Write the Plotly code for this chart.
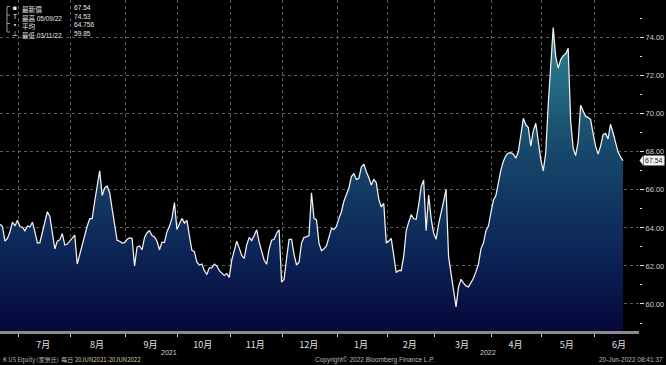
import pandas as pd
import plotly.graph_objects as go

# ---------------- data ----------------
holidays = ['2021-07-05', '2021-09-06', '2021-11-25', '2021-12-24', '2022-01-17',
            '2022-02-21', '2022-04-15', '2022-05-30', '2022-06-20']

prices = [
    64.2, 64.07, 63.3, 63.45, 63.8, 64.3, 64.1, 64.4, 64.06, 64.04,
    63.85, 64.1, 64.05, 64.3, 63.8, 63.2, 63.22, 63.8, 64.35, 64.85,
    64.6, 63.7, 62.9, 63.3, 63.37, 63.7, 63.1, 63.15, 63.3, 63.45,
    63.62, 62.1, 62.6, 63.2, 63.55, 64.1, 64.48, 64.5, 65.4, 66.2,
    67.0, 65.7, 66.1, 66.2, 65.85, 65.0, 64.2, 63.35, 63.3, 63.2,
    63.22, 63.4, 63.47, 63.45, 62.0, 63.0, 63.05, 62.85, 63.5, 63.75,
    63.85, 63.6, 63.52, 63.3, 62.85, 63.25, 63.23, 63.8, 64.08, 64.5,
    65.33, 63.92, 64.2, 64.5, 64.25, 64.4, 63.6, 62.82, 62.75, 62.2,
    62.05, 62.1, 61.75, 61.55, 61.9, 61.9, 62.1, 62.0, 61.75, 61.6,
    61.5, 61.6, 61.4, 62.3, 62.8, 63.3, 62.95, 62.55, 62.4, 63.1,
    63.5, 63.33, 63.6, 63.9, 63.25, 62.7, 62.3, 62.1, 62.9, 63.35,
    63.4, 63.72, 63.9, 61.15, 61.3, 62.4, 63.4, 63.4, 62.6, 62.05,
    62.2, 63.2, 63.5, 63.53, 63.6, 65.85, 64.5, 64.42, 63.2, 62.8,
    62.9, 63.05, 63.5, 63.97, 63.92, 64.08, 64.5, 64.85, 65.4, 65.75,
    66.1, 66.7, 66.85, 66.55, 66.6, 67.2, 67.35, 66.95, 66.65, 66.25,
    66.55, 66.38, 65.5, 65.1, 65.29, 63.2, 63.3, 63.45, 62.6, 61.65,
    61.77, 61.75, 62.5, 63.85, 64.3, 64.7, 64.48, 64.45, 65.2, 66.17,
    66.52, 63.85, 65.73, 64.5, 63.72, 63.4, 64.2, 64.9, 65.4, 66.03,
    62.5, 61.6, 60.6, 59.85, 60.9, 61.3, 61.1, 60.95, 60.9, 61.1,
    61.35, 61.7, 62.1, 62.9, 63.2, 63.85, 64.1, 64.8, 65.45, 65.7,
    66.4, 67.05, 67.5, 67.8, 67.93, 67.95, 67.87, 67.67, 68.0, 69.0,
    69.76, 69.42, 69.28, 68.3, 69.1, 69.5, 68.6, 67.6, 67.0, 67.95,
    70.5, 72.8, 74.53, 73.0, 72.4, 72.85, 73.05, 73.15, 73.44, 69.6,
    68.2, 67.8, 68.55, 70.45, 70.1, 69.86, 69.81, 69.69, 68.95, 68.3,
    67.88, 68.3, 68.9, 68.97, 68.68, 69.45, 69.0, 68.43, 68.0, 67.73,
    67.54,
]

month_names = ['7月', '8月', '9月', '10月', '11月', '12月',
               '1月', '2月', '3月', '4月', '5月', '6月']
year_labels = ['2021', '2022']
y_ticks = [60, 62, 64, 66, 68, 70, 72, 74]

stat_names = ['最新價', '最高', '平均', '最低']
stat_dates = ['', '05/09/22', '', '03/11/22']
stat_values = ['67.54', '74.53', '64.756', '59.85']
stat_icons = ['■', 'T', '▪', '⊥']
last_value = 67.54

# ---------------- trading-day axis ----------------
all_days = pd.bdate_range('2021-06-21', '2022-06-30', freq='C', holidays=holidays)
n = len(prices)
xs = list(range(n))

month_key = [(d.year, d.month) for d in all_days]
starts, counts, order = {}, {}, []
for i, k in enumerate(month_key):
    if k not in starts:
        starts[k] = i
        counts[k] = 0
        order.append(k)
    counts[k] += 1
label_months = order[1:]
grid_vals = [starts[k] - 0.6 for k in label_months]
label_vals = [starts[k] + counts[k] / 2 - 1.1 for k in label_months]

W, H = 666, 365
PL, PR, PT, PB = 0, 639, 0, 331
x_end = (n - 1) * (PR - PL) / 623.0
y_lo, y_hi = 58.58, 75.98


def px(xp):
    return (xp - PL) / (PR - PL)


def py(yp):
    return 1 - (yp - PT) / (PB - PT)


fig = go.Figure()
fig.add_trace(go.Scatter(
    x=xs, y=prices, mode='lines',
    line=dict(color='#f2f2f2', width=1.25),
    fill='tozeroy',
    fillgradient=dict(type='vertical', start=58.6, stop=74.6,
                      colorscale=[[0, '#06073a'], [0.25, '#0c2456'],
                                  [0.6, '#17496c'], [1, '#2f8792']]),
    hoverinfo='skip', showlegend=False,
))

font_cjk = 'Noto Sans CJK TC, Noto Sans, sans-serif'
font_num = 'Liberation Sans Narrow, Liberation Sans, Arial, sans-serif'

ann = []
jan = starts[(2022, 1)] - 0.6
ann.append(dict(x=jan / 2, y=py(352.5), xref='x', yref='paper', text=year_labels[0],
                showarrow=False, yanchor='middle',
                font=dict(size=7, color='#d0d0d0', family=font_num)))
ann.append(dict(x=(jan + x_end) / 2, y=py(352.5), xref='x', yref='paper', text=year_labels[1],
                showarrow=False, yanchor='middle',
                font=dict(size=7, color='#d0d0d0', family=font_num)))

# stats block: one multi-line text per column
name_lines = []
for nm, dt in zip(stat_names, stat_dates):
    name_lines.append(nm if not dt else
                      f'{nm} <span style="font-size:6.5px;font-family:{font_num}">{dt}</span>')
blk_top = 1.5
ann.append(dict(x=px(15), y=py(blk_top), xref='paper', yref='paper',
                text='<br>'.join(stat_icons), showarrow=False, xanchor='center', yanchor='top',
                align='center', font=dict(size=6.6, color='#f0f0f0', family=font_num)))
ann.append(dict(x=px(20), y=py(blk_top), xref='paper', yref='paper',
                text='<br>'.join(name_lines), showarrow=False, xanchor='left', yanchor='top',
                align='left', font=dict(size=6.6, color='#e6e6e6', family=font_cjk)))
ann.append(dict(x=px(72), y=py(blk_top), xref='paper', yref='paper',
                text='<br>'.join(stat_values), showarrow=False, xanchor='left', yanchor='top',
                align='left', font=dict(size=6.6, color='#e6e6e6', family=font_num)))

ann.append(dict(x=px(643), y=last_value, xref='paper', yref='y', text=f'{last_value:.2f}',
                showarrow=False, xanchor='left', yanchor='middle', bgcolor='#f2f2f2',
                borderpad=1, font=dict(size=7, color='#202020', family=font_num)))

foot_y = py(359.5)
ann.append(dict(x=px(1), y=foot_y, xref='paper', yref='paper',
                text='K US Equity (家樂氏)  每日 <span style="color:#d8cf9a">20JUN2021-20JUN2022</span>',
                showarrow=False, xanchor='left', yanchor='middle',
                font=dict(size=6, color='#b8b8b8', family=font_cjk)))
ann.append(dict(x=px(313), y=foot_y, xref='paper', yref='paper',
                text='Copyright© 2022 Bloomberg Finance L.P.',
                showarrow=False, xanchor='left', yanchor='middle',
                font=dict(size=6.5, color='#b8b8b8', family=font_num)))
ann.append(dict(x=px(665), y=foot_y, xref='paper', yref='paper',
                text='20-Jun-2022 08:41:37',
                showarrow=False, xanchor='right', yanchor='middle',
                font=dict(size=6.5, color='#b8b8b8', family=font_num)))

rows_y = [6.5, 15.0, 23.5, 32.0]
shapes = [
    dict(type='line', xref='paper', yref='paper', x0=px(7), x1=px(7), y0=py(rows_y[0]),
         y1=py(rows_y[-1]), line=dict(color='#9a9a9a', width=1)),
]
for yy in rows_y:
    shapes.append(dict(type='line', xref='paper', yref='paper', x0=px(7), x1=px(10),
                       y0=py(yy), y1=py(yy), line=dict(color='#9a9a9a', width=1)))
shapes.append(dict(type='path', xref='paper', yref='y',
                   path=f'M {px(639.5)},{last_value} L {px(643)},{last_value + 0.25} '
                        f'L {px(643)},{last_value - 0.25} Z',
                   fillcolor='#f2f2f2', line=dict(width=0)))

fig.update_layout(
    width=W, height=H,
    margin=dict(l=PL, r=W - PR, t=PT, b=H - PB, pad=0, autoexpand=False),
    paper_bgcolor='#000000', plot_bgcolor='#000000',
    showlegend=False,
    annotations=ann, shapes=shapes,
    xaxis=dict(
        range=[0, x_end], tickmode='array', tickvals=label_vals, ticktext=month_names,
        showgrid=False, ticks='', zeroline=False, automargin=False,
        showline=True, linecolor='#8a8a8a', linewidth=3,
        ticklabelstandoff=3,
        tickfont=dict(size=9, color='#e0e0e0', family=font_cjk),
        minor=dict(tickmode='array', tickvals=grid_vals, showgrid=True,
                   gridcolor='#5a5a5a', griddash='dot', gridwidth=1,
                   ticks='outside', ticklen=3, tickcolor='#cfcfcf'),
        fixedrange=True,
    ),
    yaxis=dict(
        range=[y_lo, y_hi], side='right', tickmode='array', tickvals=y_ticks,
        ticktext=[f'{v:.2f}' for v in y_ticks], automargin=False,
        showgrid=True, gridcolor='#5a5a5a', griddash='dot', gridwidth=1,
        ticks='outside', ticklen=4, tickcolor='#e0e0e0', zeroline=False,
        tickfont=dict(size=7.5, color='#d0d0d0', family=font_num),
        minor=dict(dtick=1, ticks='outside', ticklen=2, tickcolor='#e0e0e0', showgrid=False),
        fixedrange=True,
    ),
)

fig.write_html('out.html', config={'displayModeBar': False},
               post_script="document.body.style.margin='0px';")
